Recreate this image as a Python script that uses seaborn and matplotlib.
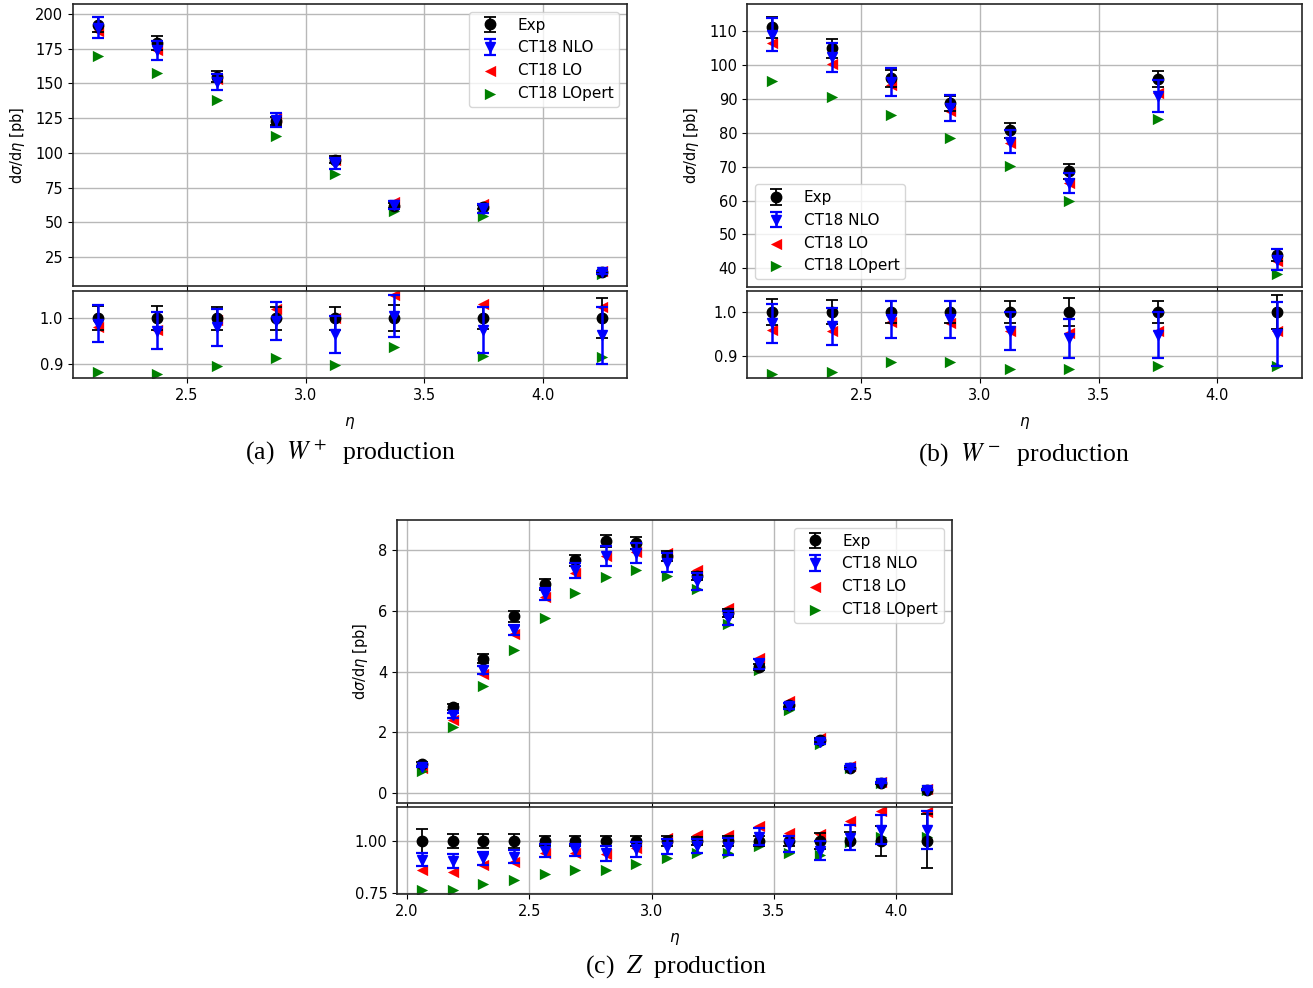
import numpy as np
import pandas as pd
import matplotlib
matplotlib.use("Agg")
import matplotlib.pyplot as plt
import seaborn as sns

plt.rcParams.update({"font.size": 10.5, "font.family": ["DejaVu Sans"],
                     "axes.linewidth": 1.2, "axes.edgecolor": "#262626"})

# ---------------- W+ production ----------------
wp_eta = [2.125, 2.375, 2.625, 2.875, 3.125, 3.375, 3.75, 4.25]
wp_exp = [192.3, 179.1, 154.7, 123.0, 95.2, 61.9, 60.7, 14.4]
wp_exp_err = [5.3, 4.9, 3.9, 3.1, 2.4, 1.7, 1.4, 0.63]
wp_nlo = [190.2, 173.9, 151.1, 123.5, 92.3, 62.4, 59.8, 14.0]
wp_nlo_err = [7.6, 7.0, 6.0, 5.1, 3.8, 2.8, 3.1, 0.9]
wp_lo = [188.0, 174.3, 153.5, 125.4, 95.2, 64.7, 63.5, 15.0]
wp_lopert = [169.8, 157.3, 138.1, 112.2, 84.7, 57.8, 54.7, 12.5]
wp_r_exp_err = [0.027, 0.027, 0.025, 0.025, 0.025, 0.028, 0.024, 0.044]
wp_r_nlo = [0.988, 0.972, 0.980, 0.993, 0.965, 1.004, 0.974, 0.962]
wp_r_nlo_err = [0.040, 0.040, 0.040, 0.041, 0.040, 0.045, 0.051, 0.063]
wp_r_lo = [0.980, 0.973, 0.995, 1.019, 1.000, 1.049, 1.030, 1.025]
wp_r_lopert = [0.883, 0.879, 0.896, 0.914, 0.897, 0.938, 0.917, 0.916]

# ---------------- W- production ----------------
wm_eta = [2.125, 2.375, 2.625, 2.875, 3.125, 3.375, 3.75, 4.25]
wm_exp = [111.1, 105.0, 96.1, 88.7, 80.7, 68.6, 95.8, 44.0]
wm_exp_err = [3.2, 2.8, 2.5, 2.3, 2.1, 2.1, 2.3, 1.7]
wm_nlo = [108.9, 102.3, 95.1, 87.3, 77.4, 65.1, 90.9, 42.5]
wm_nlo_err = [4.9, 4.3, 4.1, 3.8, 3.3, 3.0, 4.7, 3.1]
wm_lo = [106.4, 100.4, 94.0, 86.4, 77.1, 65.3, 91.6, 42.1]
wm_lopert = [95.3, 90.5, 85.3, 78.5, 70.2, 59.8, 84.1, 38.3]
wm_r_exp_err = [0.029, 0.027, 0.026, 0.026, 0.026, 0.031, 0.024, 0.038]
wm_r_nlo = [0.974, 0.968, 0.983, 0.983, 0.956, 0.940, 0.948, 0.950]
wm_r_nlo_err = [0.045, 0.042, 0.043, 0.043, 0.043, 0.045, 0.052, 0.072]
wm_r_lo = [0.958, 0.956, 0.978, 0.974, 0.956, 0.952, 0.956, 0.956]
wm_r_lopert = [0.860, 0.863, 0.886, 0.886, 0.871, 0.871, 0.877, 0.877]

# ---------------- Z production ----------------
z_eta = [2.0625, 2.1875, 2.3125, 2.4375, 2.5625, 2.6875, 2.8125, 2.9375, 3.0625,
         3.1875, 3.3125, 3.4375, 3.5625, 3.6875, 3.8125, 3.9375, 4.125]
z_exp = [0.96, 2.84, 4.43, 5.82, 6.87, 7.67, 8.31, 8.24, 7.80, 7.14, 5.93, 4.16,
         2.90, 1.75, 0.82, 0.33, 0.11]
z_exp_err = [0.055, 0.10, 0.15, 0.19, 0.17, 0.18, 0.20, 0.20, 0.17, 0.14, 0.13,
             0.10, 0.07, 0.065, 0.037, 0.024, 0.014]
z_nlo = [0.88, 2.57, 4.06, 5.38, 6.55, 7.33, 7.81, 7.91, 7.59, 6.97, 5.77, 4.25,
         2.87, 1.68, 0.84, 0.35, 0.115]
z_nlo_err = [0.026, 0.085, 0.13, 0.17, 0.20, 0.25, 0.32, 0.32, 0.30, 0.27, 0.22,
             0.17, 0.11, 0.07, 0.05, 0.025, 0.012]
z_lo = [0.83, 2.42, 3.92, 5.24, 6.46, 7.24, 7.80, 7.95, 7.90, 7.35, 6.10, 4.46,
        3.02, 1.81, 0.90, 0.38, 0.125]
z_lopert = [0.73, 2.17, 3.52, 4.72, 5.78, 6.60, 7.13, 7.33, 7.15, 6.72, 5.58, 4.06,
            2.74, 1.63, 0.82, 0.34, 0.11]
z_r_exp_err = [0.057, 0.035, 0.034, 0.032, 0.025, 0.024, 0.024, 0.024, 0.022, 0.020,
               0.022, 0.025, 0.025, 0.037, 0.045, 0.072, 0.13]
z_r_nlo = [0.910, 0.903, 0.916, 0.924, 0.953, 0.956, 0.940, 0.960, 0.973, 0.976,
           0.973, 1.021, 0.985, 0.953, 1.015, 1.053, 1.053]
z_r_nlo_err = [0.030, 0.033, 0.030, 0.030, 0.030, 0.030, 0.035, 0.035, 0.035, 0.035,
               0.040, 0.040, 0.040, 0.045, 0.060, 0.070, 0.090]
z_r_lo = [0.861, 0.853, 0.885, 0.901, 0.941, 0.944, 0.938, 0.965, 1.013, 1.029,
          1.029, 1.072, 1.040, 1.033, 1.097, 1.145, 1.140]
z_r_lopert = [0.763, 0.763, 0.795, 0.811, 0.842, 0.861, 0.858, 0.890, 0.917, 0.941,
              0.941, 0.976, 0.944, 0.933, 0.997, 1.020, 1.020]

labels = ["Exp", "CT18 NLO", "CT18 LO", "CT18 LOpert"]

W, H = 1313, 988
fig = plt.figure(figsize=(W / 100, H / 100), dpi=100)


def box(l, t, r, b):
    return [l / W, 1 - b / H, (r - l) / W, (b - t) / H]


def draw(ax, x, exp, exp_err, nlo, nlo_err, lo, lopert):
    df = pd.DataFrame({"x": x, "lo": lo, "lopert": lopert})
    sns.scatterplot(data=df, x="x", y="lo", marker="<", color="red", s=66,
                    linewidth=0, ax=ax, zorder=2, legend=False)
    h_lo = ax.collections[-1]
    sns.scatterplot(data=df, x="x", y="lopert", marker=">", color="green", s=66,
                    linewidth=0, ax=ax, zorder=2, legend=False)
    h_lp = ax.collections[-1]
    h_exp = ax.errorbar(x, exp, yerr=exp_err, fmt="o", color="black", ms=7.5,
                        elinewidth=1.3, capsize=4, capthick=1.3, zorder=3)
    h_nlo = ax.errorbar(x, nlo, yerr=nlo_err, fmt="v", color="blue", ms=7.8,
                        elinewidth=1.8, capsize=4, capthick=1.6, zorder=4)
    ax.set_xlabel("")
    ax.set_ylabel("")
    ax.grid(True, color="#b8b8b8", linewidth=1.0)
    ax.set_axisbelow(True)
    return [h_exp, h_nlo, h_lo, h_lp]


panels = [
    dict(main=box(73, 4, 627, 286), ratio=box(73, 291, 627, 378),
         x=wp_eta, exp=wp_exp, exp_err=wp_exp_err, nlo=wp_nlo, nlo_err=wp_nlo_err,
         lo=wp_lo, lopert=wp_lopert, r_exp_err=wp_r_exp_err, r_nlo=wp_r_nlo,
         r_nlo_err=wp_r_nlo_err, r_lo=wp_r_lo, r_lopert=wp_r_lopert,
         ylim=(4.1, 207.2), yticks=[25, 50, 75, 100, 125, 150, 175, 200],
         rylim=(0.8696, 1.0587), ryticks=[0.9, 1.0], rfmt="{:.1f}",
         xticks=[2.5, 3.0, 3.5, 4.0], loc="upper right",
         caption=r"(a)  $W^+$  production", cap_xy=(350, 452)),
    dict(main=box(747, 4, 1302, 287), ratio=box(747, 291, 1302, 378),
         x=wm_eta, exp=wm_exp, exp_err=wm_exp_err, nlo=wm_nlo, nlo_err=wm_nlo_err,
         lo=wm_lo, lopert=wm_lopert, r_exp_err=wm_r_exp_err, r_nlo=wm_r_nlo,
         r_nlo_err=wm_r_nlo_err, r_lo=wm_r_lo, r_lopert=wm_r_lopert,
         ylim=(34.5, 118.0), yticks=[40, 50, 60, 70, 80, 90, 100, 110],
         rylim=(0.850, 1.0477), ryticks=[0.9, 1.0], rfmt="{:.1f}",
         xticks=[2.5, 3.0, 3.5, 4.0], loc="lower left",
         caption=r"(b)  $W^-$  production", cap_xy=(1024, 455)),
    dict(main=box(397, 520, 952, 803), ratio=box(397, 807, 952, 894),
         x=z_eta, exp=z_exp, exp_err=z_exp_err, nlo=z_nlo, nlo_err=z_nlo_err,
         lo=z_lo, lopert=z_lopert, r_exp_err=z_r_exp_err, r_nlo=z_r_nlo,
         r_nlo_err=z_r_nlo_err, r_lo=z_r_lo, r_lopert=z_r_lopert,
         ylim=(-0.32, 8.99), yticks=[0, 2, 4, 6, 8],
         rylim=(0.745, 1.163), ryticks=[0.75, 1.0], rfmt="{:.2f}",
         xticks=[2.0, 2.5, 3.0, 3.5, 4.0], loc="upper right",
         caption=r"(c)  $Z$  production", cap_xy=(676, 967)),
]

for p in panels:
    ax = fig.add_axes(p["main"])
    rx = fig.add_axes(p["ratio"], sharex=ax)
    handles = draw(ax, p["x"], p["exp"], p["exp_err"], p["nlo"], p["nlo_err"],
                   p["lo"], p["lopert"])
    ones = [1.0] * len(p["x"])
    draw(rx, p["x"], ones, p["r_exp_err"], p["r_nlo"], p["r_nlo_err"],
         p["r_lo"], p["r_lopert"])
    ax.set_ylim(*p["ylim"])
    ax.set_yticks(p["yticks"])
    rx.set_ylim(*p["rylim"])
    rx.set_yticks(p["ryticks"])
    rx.set_yticklabels([p["rfmt"].format(v) for v in p["ryticks"]])
    rx.set_xticks(p["xticks"])
    rx.set_xticklabels([f"{v:.1f}" for v in p["xticks"]])
    ax.tick_params(labelbottom=False)
    ax.set_ylabel(r"d$\sigma$/d$\eta$ [pb]", fontsize=10.5, labelpad=6)
    rx.set_xlabel(r"$\eta$", fontsize=11, labelpad=9)
    ax.legend(handles, labels, loc=p["loc"], fontsize=11, framealpha=0.8)
    cx, cy = p["cap_xy"]
    fig.text(cx / W, 1 - cy / H, p["caption"], ha="center", va="center",
             fontsize=18.5, fontfamily="Liberation Serif", math_fontfamily="stix")

fig.savefig("out.png", dpi=100)
